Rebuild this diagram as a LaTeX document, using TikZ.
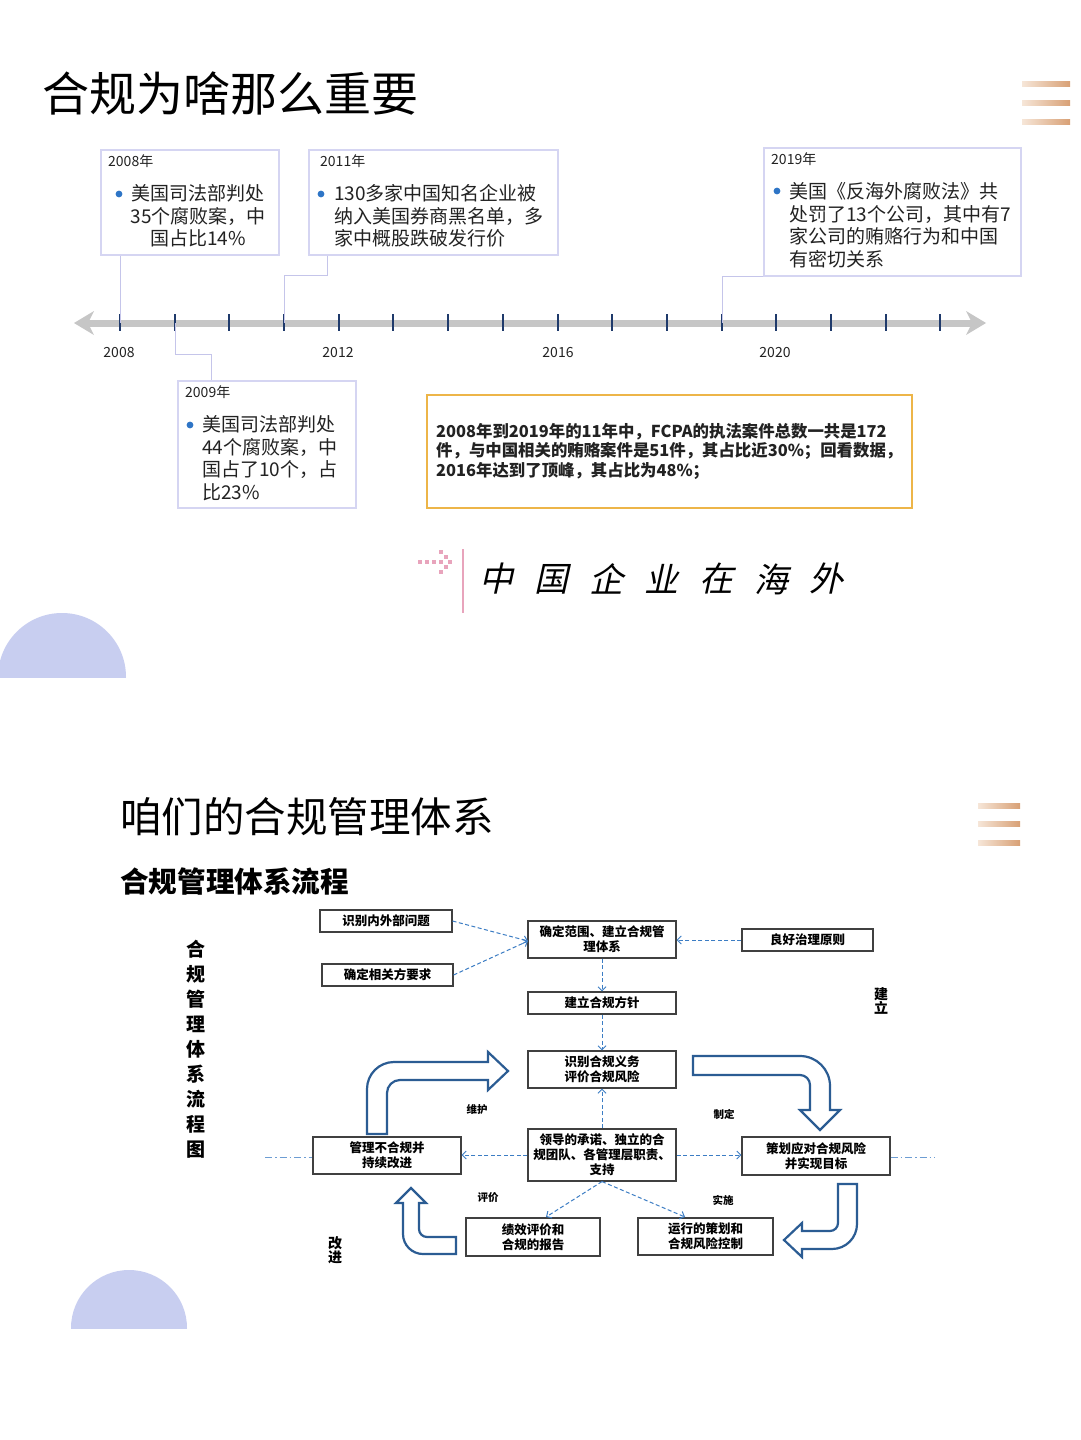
\documentclass[tikz,border=0pt]{standalone}
\usepackage{fontspec}
\setmainfont{Noto Sans CJK SC}
\newfontfamily\slantcjk[FakeSlant=0.22]{Noto Sans CJK SC}
\usetikzlibrary{arrows.meta}
\definecolor{lav}{HTML}{D5D5F2}
\definecolor{lavc}{HTML}{C5C5EA}
\definecolor{tickblue}{HTML}{1F3A6B}
\definecolor{bullet}{HTML}{2E75C6}
\definecolor{orangeb}{HTML}{EDB548}
\definecolor{pinkd}{HTML}{E8A4BC}
\definecolor{circ}{HTML}{C8CEF0}
\definecolor{dblue}{HTML}{3C7DC4}
\definecolor{ablue}{HTML}{2B5C93}
\definecolor{fgray}{HTML}{404040}
\definecolor{tdark}{HTML}{222222}
\definecolor{barl}{HTML}{F6E6D8}
\definecolor{barr}{HTML}{D8A075}
\definecolor{axisgray}{HTML}{C6C6C6}
\tikzset{
 tbox/.style={draw=lav, line width=1.5pt, anchor=north west, inner sep=0pt},
 tconn/.style={draw=lavc, line width=1pt},
 fbox/.style={draw=fgray, line width=1.1pt, fill=white, align=center, inner sep=0pt, font=\fontsize{12.5}{15}\selectfont\bfseries},
 darr/.style={draw=dblue, dash pattern=on 4pt off 2.5pt, line width=1pt, -{Straight Barb[length=4pt,width=8pt]}},
 ddot/.style={draw=dblue!75, line width=0.9pt, dash pattern=on 7pt off 3pt on 1.5pt off 3pt},
 barrow/.style={draw=ablue, line width=2.2pt, fill=white, line join=miter},
 lbl/.style={font=\fontsize{10.5}{12}\selectfont\bfseries, inner sep=0pt},
 ttxt/.style={font=\fontsize{19}{22.5}\selectfont, text=tdark, inner sep=0pt},
 yr/.style={font=\fontsize{14}{16}\selectfont, text=tdark, inner sep=0pt},
 bigt/.style={inner sep=0pt, anchor=west, text=black},
}
\begin{document}
\begin{tikzpicture}[x=1pt,y=-1pt]
\useasboundingbox (0,0) rectangle (1080,1440);
\fill[white] (0,0) rectangle (1080,1440);

% ---------- page 1 ----------
\node[bigt, font=\fontsize{47}{50}\selectfont] (title1) at (42,94) {合规为啥那么重要};
\shade[left color=barl, right color=barr] (1022,81.5) rectangle (1070,86.5);
\shade[left color=barl, right color=barr] (1022,100.5) rectangle (1070,105.5);
\shade[left color=barl, right color=barr] (1022,119.5) rectangle (1070,124.5);

% timeline axis
\draw[axisgray, line width=7pt] (86,323) -- (974,323);
\fill[axisgray] (74,323) -- (94,311) -- (88,323) -- (94,335) -- cycle;
\fill[axisgray] (986,323) -- (966,311) -- (972,323) -- (966,335) -- cycle;
\foreach \i in {0,...,15} {
  \pgfmathsetmacro{\tx}{round(120+54.7*\i)}
  \coordinate (t\i) at (\tx,323);
  \draw[tickblue, line width=1.2pt] (\tx,314) -- (\tx,331);
}
\node[yr] (y08) at (119,353) {2008};
\node[yr] (y12) at (338,353) {2012};
\node[yr] (y16) at (558,353) {2016};
\node[yr] (y20) at (775,353) {2020};

% timeline boxes
\node[tbox, minimum width=178pt, minimum height=105pt] (b08) at (100,149) {};
\node[tbox, minimum width=249pt, minimum height=105pt] (b11) at (308,149) {};
\node[tbox, minimum width=257pt, minimum height=128pt] (b19) at (763,147) {};
\node[tbox, minimum width=178pt, minimum height=127pt] (b09) at (177,380) {};

\node[yr, anchor=west] (h08) at (108,161) {2008年};
\node[yr, anchor=west] (h11) at (320,161) {2011年};
\node[yr, anchor=west] (h19) at (771,159) {2019年};
\node[yr, anchor=west] (h09) at (185,392) {2009年};

\fill[bullet] (119,194) circle (3.4);
\fill[bullet] (321,194) circle (3.4);
\fill[bullet] (777,191) circle (3.4);
\fill[bullet] (190,425) circle (3.4);

\node[ttxt, align=center] (x08) at (198,216) {美国司法部判处\\35个腐败案，中\\国占比14\%};
\node[ttxt, align=left, anchor=west] (x11) at (334,216) {130多家中国知名企业被\\纳入美国券商黑名单，多\\家中概股跌破发行价};
\node[ttxt, align=left, anchor=west] (x19) at (789,225) {美国《反海外腐败法》共\\处罚了13个公司，其中有7\\家公司的贿赂行为和中国\\有密切关系};
\node[ttxt, align=left, anchor=west] (x09) at (202,458) {美国司法部判处\\44个腐败案，中\\国占了10个，占\\比23\%};

% timeline connectors
\coordinate (k11) at (327,275);
\coordinate (k09) at (211,354);
\draw[tconn] (b08.south -| t0) -- (t0);
\draw[tconn] (b11.south -| k11) -- (k11) -- (k11 -| t3) -- (t3);
\draw[tconn] (b19.south west) -- (b19.south west -| t11) -- (t11);
\draw[tconn] (t1) -- (t1 |- k09) -- (k09) -- (k09 |- b09.north);

% FCPA box
\node[draw=orangeb, line width=1.5pt, anchor=north west, minimum width=485pt, minimum height=113pt, inner sep=0pt] (fcpa) at (426,394) {};
\node[anchor=west, align=left, inner sep=0pt, font=\fontsize{16.4}{19.5}\selectfont\bfseries, text=tdark] (fcpat) at (436,451)
 {2008年到2019年的11年中，FCPA的执法案件总数一共是172\\件，与中国相关的贿赂案件是51件，其占比近30\%；回看数据，\\2016年达到了顶峰，其占比为48\%；};

% 中国企业在海外
\foreach \p in {(420,562),(427,562),(434,562),(441,562),(450,562),(441,552),(446,557),(446,567),(441,572)} {
  \fill[pinkd] \p ++(-1.8,-1.8) rectangle ++(3.6,3.6);
}
\draw[pinkd, line width=2pt] (463,549) -- (463,613);
\foreach \c [count=\k from 0] in {中,国,企,业,在,海,外} {
  \node[inner sep=0pt, font=\slantcjk\fontsize{34}{36}\selectfont] (cn\k) at ({496+55*\k},579) {\c};
}

% decorative half circles
\begin{scope}
\clip (0,0) rectangle (1080,677);
\fill[circ] (62,677) circle (64);
\end{scope}
\begin{scope}
\clip (0,0) rectangle (1080,1328);
\fill[circ] (129,1328) circle (58);
\end{scope}

% ---------- page 2 ----------
\node[bigt, font=\fontsize{41.5}{44}\selectfont] (title2) at (120,817) {咱们的合规管理体系};
\shade[left color=barl, right color=barr] (978,803.5) rectangle (1020,808.5);
\shade[left color=barl, right color=barr] (978,821.5) rectangle (1020,826.5);
\shade[left color=barl, right color=barr] (978,840.5) rectangle (1020,845.5);
\node[bigt, font=\fontsize{28.6}{32}\selectfont\bfseries] (sub2) at (120,882) {合规管理体系流程};

\node[inner sep=0pt, align=center, font=\fontsize{19}{25}\selectfont\bfseries] (vt) at (196,1049) {合\\规\\管\\理\\体\\系\\流\\程\\图};
\node[inner sep=0pt, align=center, font=\fontsize{14}{14}\selectfont\bfseries] (jl) at (881,1001) {建\\立};
\node[inner sep=0pt, align=center, font=\fontsize{14}{14}\selectfont\bfseries] (gj) at (335,1250) {改\\进};

% flow boxes
\node[fbox, minimum width=132pt, minimum height=22pt] (n1) at (386,921) {识别内外部问题};
\node[fbox, minimum width=131pt, minimum height=22pt] (n2) at (387.5,975) {确定相关方要求};
\node[fbox, minimum width=148pt, minimum height=37pt] (n3) at (602,939.5) {确定范围、建立合规管\\理体系};
\node[fbox, minimum width=131pt, minimum height=22pt] (n4) at (807.5,940) {良好治理原则};
\node[fbox, minimum width=148pt, minimum height=22pt] (n5) at (602,1003) {建立合规方针};
\node[fbox, minimum width=148pt, minimum height=37pt] (n6) at (602,1069.5) {识别合规义务\\评价合规风险};
\node[fbox, minimum width=148pt, minimum height=52pt] (n7) at (602,1155) {领导的承诺、独立的合\\规团队、各管理层职责、\\支持};
\node[fbox, minimum width=148pt, minimum height=37pt] (n8) at (387,1155.5) {管理不合规并\\持续改进};
\node[fbox, minimum width=148pt, minimum height=38pt] (n9) at (816,1156) {策划应对合规风险\\并实现目标};
\node[fbox, minimum width=134pt, minimum height=38pt] (n10) at (533,1237) {绩效评价和\\合规的报告};
\node[fbox, minimum width=135pt, minimum height=37pt] (n11) at (705.5,1236.5) {运行的策划和\\合规风险控制};

% dashed connectors
\coordinate (m3) at (528,941);
\draw[darr] (n1.east) -- (m3);
\draw[darr] (n2.east) -- (m3);
\draw[darr] (n4.west) -- (n3.east |- n4.west);
\draw[darr] (n3.south) -- (n5.north);
\draw[darr] (n5.south) -- (n6.north);
\draw[darr] (n7.north) -- (n6.south);
\draw[darr] (n7.west) -- (n8.east |- n7.west);
\draw[darr] (n7.east) -- (n9.west |- n7.east);
\coordinate (e10) at (546,1217);
\coordinate (e11) at (685,1217);
\draw[darr] (n7.south) -- (e10);
\draw[darr] (n7.south) -- (e11);
\coordinate (dl) at (265,1157);
\coordinate (dr) at (935,1157);
\draw[ddot] (dl) -- (dl -| n8.west);
\draw[ddot] (n9.east |- dr) -- (dr);

% labels
\node[lbl] (l1) at (477,1109) {维护};
\node[lbl] (l2) at (724,1114) {制定};
\node[lbl] (l3) at (488,1198) {评价};
\node[lbl] (l4) at (723,1200) {实施};

% block arrows
\draw[barrow] (367,1134) -- (367,1089) .. controls (367,1074.1) and (379.1,1062) .. (394,1062)
  -- (488,1062) -- (488,1052) -- (508,1071) -- (488,1090) -- (488,1080) -- (400,1080)
  .. controls (392.8,1080) and (387,1085.8) .. (387,1093) -- (387,1134) -- cycle;
\draw[barrow] (693,1056) -- (800,1056) .. controls (816.6,1056) and (830,1069.4) .. (830,1086)
  -- (830,1110) -- (840,1110) -- (820,1130) -- (800,1110) -- (810,1110) -- (810,1085)
  .. controls (810,1079.5) and (805.5,1075) .. (800,1075) -- (693,1075) -- cycle;
\draw[barrow] (456,1237) -- (427,1237) .. controls (422.6,1237) and (419,1233.4) .. (419,1229)
  -- (419,1203) -- (426,1203) -- (411,1188) -- (396,1203) -- (403,1203) -- (403,1234)
  .. controls (403,1245) and (412,1254) .. (423,1254) -- (456,1254) -- cycle;
\draw[barrow] (838,1184) -- (857,1184) -- (857,1224) .. controls (857,1237.8) and (845.8,1249) .. (832,1249)
  -- (802,1249) -- (802,1257) -- (784,1240) -- (802,1223) -- (802,1231) -- (830,1231)
  .. controls (834.4,1231) and (838,1227.4) .. (838,1223) -- cycle;
\end{tikzpicture}
\end{document}
